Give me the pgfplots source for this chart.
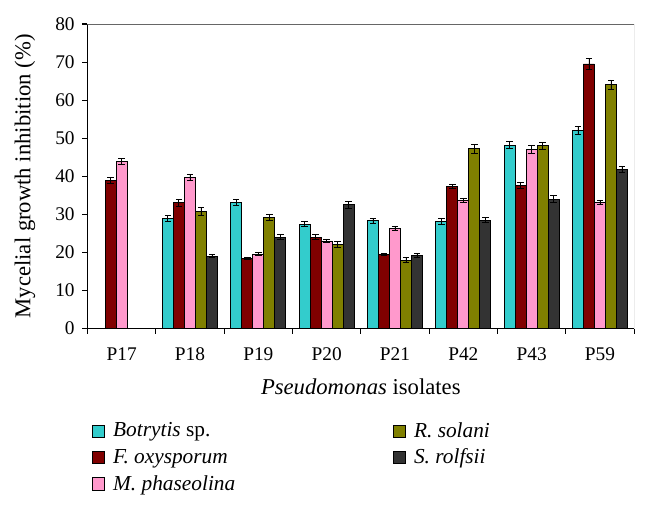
\documentclass[border=0pt]{standalone}
\usepackage{pgfplots}
\pgfplotsset{compat=1.18}
\usepackage{fontspec}
\setmainfont{Liberation Serif}
\definecolor{cBot}{HTML}{33CCCC}
\definecolor{cFus}{HTML}{800000}
\definecolor{cMac}{HTML}{FF99CC}
\definecolor{cRhi}{HTML}{808000}
\definecolor{cScl}{HTML}{333333}
\begin{document}
\fontsize{14}{17}\selectfont
\begin{tikzpicture}
\useasboundingbox (-65.6pt,-134.6pt) rectangle (420.4pt,246.4pt);
\begin{axis}[
  at={(0,0)}, anchor=south west,
  scale only axis, width=410pt, height=228.4pt,
  ybar=0pt, bar width=0.161,
  xmin=-0.5, xmax=7.5, ymin=0, ymax=80,
  axis x line*=bottom, axis y line*=left,
  axis line style={black, line width=0.8pt},
  xtick={0,...,7},
  xticklabels={P17,P18,P19,P20,P21,P42,P43,P59},
  minor xtick={-0.5,0.5,...,7.5},
  major x tick style={draw=none},
  minor x tick style={black, line width=0.8pt},
  minor tick length=3.75pt,
  ytick={0,10,...,80},
  y tick style={black, line width=0.8pt},
  major tick length=3.75pt,
  tick align=outside,
  /pgf/number format/assume math mode=true,
  tick label style={font=\fontsize{14.5}{17}\selectfont},
  x tick label style={yshift=-6pt},
  y tick label style={xshift=-1pt},
  every axis y label/.style={at={(axis description cs:-0.1144,0.5)}, rotate=90, anchor=center},
  every axis x label/.style={at={(axis description cs:0.5,-0.192)}, anchor=center},
  label style={font=\fontsize{17}{20}\selectfont},
  ylabel={Mycelial growth inhibition (\%)},
  xlabel={\textit{Pseudomonas} isolates},
  error bars/error bar style={black, line width=0.7pt},
  error bars/error mark options={rotate=90, mark size=2.4pt, black, line width=0.7pt},
  every axis plot/.append style={draw=black, line width=0.7pt},
  legend image code/.code={\draw[#1, line width=0.7pt] (0pt,-4.7pt) rectangle (9.4pt,4.7pt);},
  transpose legend,
  legend columns=3,
  legend cell align=left,
  legend style={at={(axis description cs:0,-0.29)}, anchor=north west, draw=none,
    font=\fontsize{16}{19}\selectfont,
    /tikz/every even column/.append style={column sep=112pt},
    /tikz/row sep=2.5pt,
    nodes={inner xsep=6pt}},
]
\addplot[fill=cBot, error bars/.cd, y dir=both, y explicit] coordinates {
 (1,29.0) +- (0,0.8) (2,33.2) +- (0,0.8) (3,27.4) +- (0,0.7) (4,28.3) +- (0,0.6)
 (5,28.1) +- (0,0.7) (6,48.2) +- (0,0.9) (7,52.0) +- (0,1.0)};
\addplot[fill=cFus, error bars/.cd, y dir=both, y explicit] coordinates {
 (0,39.0) +- (0,0.8) (1,33.0) +- (0,1.0) (2,18.5) +- (0,0.3) (3,24.0) +- (0,0.6)
 (4,19.5) +- (0,0.3) (5,37.3) +- (0,0.5) (6,37.5) +- (0,0.8) (7,69.5) +- (0,1.5)};
\addplot[fill=cMac, error bars/.cd, y dir=both, y explicit] coordinates {
 (0,44.0) +- (0,0.8) (1,39.6) +- (0,0.8) (2,19.5) +- (0,0.4) (3,23.0) +- (0,0.4)
 (4,26.3) +- (0,0.6) (5,33.7) +- (0,0.6) (6,47.0) +- (0,1.0) (7,33.2) +- (0,0.5)};
\addplot[fill=cRhi, error bars/.cd, y dir=both, y explicit] coordinates {
 (1,30.8) +- (0,1.0) (2,29.2) +- (0,0.8) (3,22.0) +- (0,0.8) (4,18.0) +- (0,0.6)
 (5,47.2) +- (0,1.2) (6,48.0) +- (0,1.0) (7,64.0) +- (0,1.3)};
\addplot[fill=cScl, error bars/.cd, y dir=both, y explicit] coordinates {
 (1,19.0) +- (0,0.4) (2,24.0) +- (0,0.6) (3,32.5) +- (0,1.0) (4,19.2) +- (0,0.4)
 (5,28.5) +- (0,0.7) (6,34.0) +- (0,0.9) (7,41.8) +- (0,0.9)};
\legend{\textit{Botrytis} sp., \textit{F. oxysporum}, \textit{M. phaseolina}, \textit{R. solani}, \textit{S. rolfsii}}
\draw[gray!80!black, line width=0.8pt] (rel axis cs:0,1) -- (rel axis cs:1,1) -- (rel axis cs:1,0);
\end{axis}
\end{tikzpicture}
\end{document}
